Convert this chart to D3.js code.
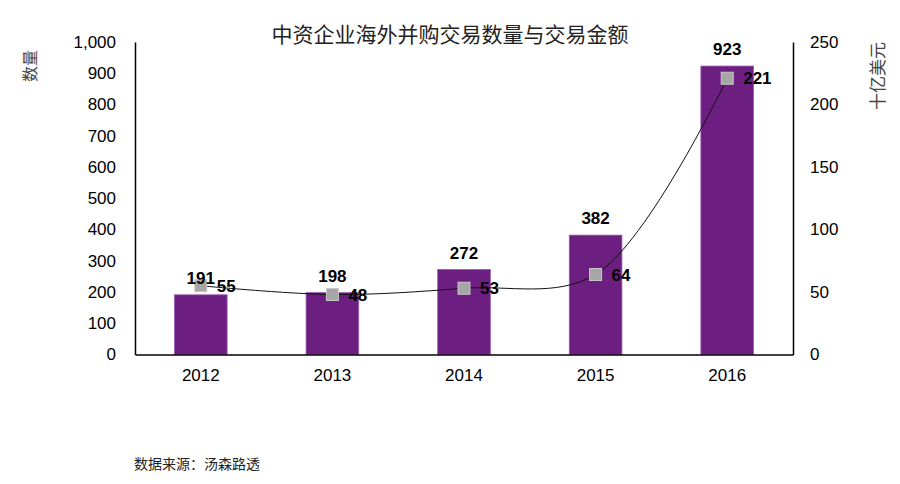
<!DOCTYPE html>
<html><head><meta charset="utf-8">
<script src="https://cdn.jsdelivr.net/npm/d3@7"></script>
<style>body{margin:0;background:#fff}svg{display:block}</style>
</head><body>
<script>
const categories = ["2012","2013","2014","2015","2016"];
const dealCount = [191,198,272,382,923];
const dealValue = [55,48,53,64,221];
const leftTicks = [0,100,200,300,400,500,600,700,800,900,1000];
const rightTicks = [0,50,100,150,200,250];

const W=900,H=484;
const svg=d3.select("body").append("svg").attr("width",W).attr("height",H);
const font="'Liberation Sans', Arial, sans-serif";
const L=135,R=793,T=42,B=354.5;

const x=d3.scaleBand().domain(categories).range([L,R]).paddingInner(0.6).paddingOuter(0.3);
const yL=d3.scaleLinear().domain([0,1000]).range([B,T]);
const yR=d3.scaleLinear().domain([0,250]).range([B,T]);

// bars
svg.selectAll("rect.bar").data(categories).enter().append("rect")
  .attr("x",d=>x(d)).attr("width",x.bandwidth())
  .attr("y",(d,i)=>yL(dealCount[i])).attr("height",(d,i)=>B-yL(dealCount[i]))
  .attr("fill","#6c1f80").attr("stroke","#9a5aab").attr("stroke-width",0.8);

// axes
const axL=svg.append("g").attr("transform",`translate(${L},0)`)
  .call(d3.axisLeft(yL).tickValues(leftTicks).tickSize(0).tickPadding(19).tickFormat(d3.format(",")));
const axR=svg.append("g").attr("transform",`translate(${R},0)`)
  .call(d3.axisRight(yR).tickValues(rightTicks).tickSize(0).tickPadding(17));
const axB=svg.append("g").attr("transform",`translate(0,${B})`)
  .call(d3.axisBottom(x).tickSize(0).tickPadding(14));
[axL,axR,axB].forEach(a=>{
  a.select(".domain").attr("stroke","#000").attr("stroke-width",1.5);
  a.selectAll("text").attr("font-family",font).attr("font-size",17).attr("fill","#000");
});

// line
const cx=d=>x(d)+x.bandwidth()/2;
const line=d3.line().x((d,i)=>cx(categories[i])).y(d=>yR(d)).curve(d3.curveCatmullRom.alpha(0.5));
svg.append("path").datum(dealValue).attr("d",line).attr("fill","none").attr("stroke","#111").attr("stroke-width",1);

svg.selectAll("rect.mk").data(dealValue).enter().append("rect")
  .attr("x",(d,i)=>cx(categories[i])-6).attr("y",d=>yR(d)-6)
  .attr("width",12).attr("height",12).attr("fill","#a6a6a6").attr("stroke","#c8c8c8").attr("stroke-width",1);

// labels
svg.selectAll("text.bl").data(dealCount).enter().append("text")
  .attr("x",(d,i)=>cx(categories[i])).attr("y",d=>yL(d)-11)
  .attr("text-anchor","middle").attr("font-family",font).attr("font-size",17).attr("font-weight","bold")
  .text(d=>d);
svg.selectAll("text.ll").data(dealValue).enter().append("text")
  .attr("x",(d,i)=>cx(categories[i])+16).attr("y",d=>yR(d)+6)
  .attr("font-family",font).attr("font-size",17).attr("font-weight","bold")
  .text(d=>d);

// titles
const cjk="'Noto Sans CJK SC', sans-serif";
svg.append("text").attr("x",450).attr("y",42).attr("text-anchor","middle")
  .attr("font-family",cjk).attr("font-size",21).attr("fill","#222").text("中资企业海外并购交易数量与交易金额");
svg.append("text").attr("transform","translate(36,66) rotate(-90)").attr("text-anchor","middle")
  .attr("font-family",cjk).attr("font-size",16).attr("fill","#444").text("数量");
svg.append("text").attr("transform","translate(884,76) rotate(-90)").attr("text-anchor","middle")
  .attr("font-family",cjk).attr("font-size",17).attr("fill","#444").text("十亿美元");
svg.append("text").attr("x",134).attr("y",469)
  .attr("font-family",cjk).attr("font-size",14).attr("fill","#222").text("数据来源：汤森路透");
</script>
</body></html>
